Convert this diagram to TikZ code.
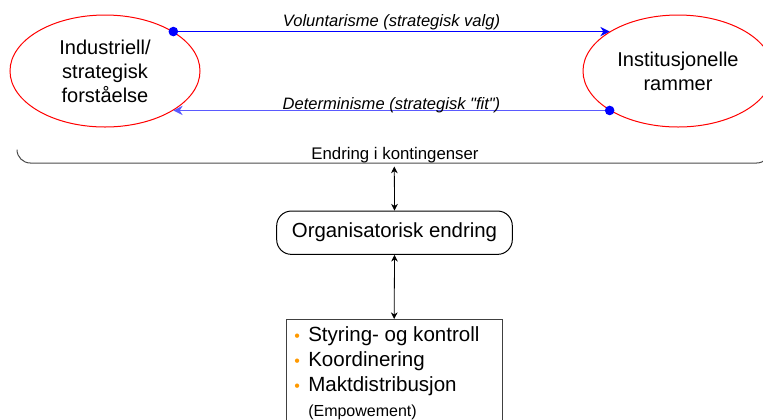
\documentclass[tikz,border=0pt]{standalone}
\usepackage{fontspec}
\setmainfont{Liberation Sans}
\usetikzlibrary{shapes.geometric,arrows.meta}
\definecolor{pilblaa}{RGB}{0,0,255}
\definecolor{pilblaalys}{RGB}{90,90,255}
\definecolor{punktoransje}{RGB}{255,153,0}
\tikzset{
  >={Stealth[length=5pt,width=5pt]},
}
\tikzstyle{perspektiv}=[draw=red,ellipse,line width=.75pt,minimum width=142.5pt,minimum height=84pt,inner sep=0pt,align=center,font=\fontsize{15}{18}\selectfont]
\tikzstyle{pil}=[line width=.75pt,-{Stealth[length=7pt,width=7pt]}]
\tikzstyle{etikett}=[anchor=base,inner sep=0pt,text=black,font=\fontsize{12.4}{14}\selectfont\itshape]
\tikzstyle{dobbelpil}=[line width=.6pt,<->]
\newcommand{\punkt}{\makebox[10.5pt][l]{\textcolor{punktoransje}{\fontsize{12}{12}\selectfont\textbullet}}}

\begin{document}
\begin{tikzpicture}[x=.75pt,y=-.75pt]
    \useasboundingbox (0,0) rectangle (763,419);
    \node[perspektiv] (industri) at (105,71) {Industriell/\\strategisk\\forståelse};
    \node[perspektiv] (institusjon) at (678,71) {Institusjonelle\\rammer};
    \draw[pil,pilblaa] (industri.30) -- node[etikett,yshift=3.75pt]{Voluntarisme (strategisk valg)} (institusjon.150);
    \fill[pilblaa] (industri.30) circle (3.6pt);
    \draw[pil,pilblaalys] (institusjon.210) -- node[etikett,yshift=.6pt]{Determinisme (strategisk \textquotedbl fit\textquotedbl)} (industri.330);
    \fill[pilblaa] (institusjon.210) circle (3.6pt);
    \draw[black!70,line width=.75pt,rounded corners=10pt] (17,150) -- (17,163) -- (770,163) -- (770,150);
    \node[anchor=base,font=\fontsize{12.6}{14}\selectfont] (kontingens) at (395,159.3) {Endring i kontingenser};
    \coordinate (linje) at (394.3,163);
    \node[draw,rounded corners=11pt,line width=.75pt,minimum width=176.7pt,minimum height=32.5pt,font=\fontsize{15.3}{18}\selectfont] (endring) at (394.5,232.7) {Organisatorisk endring};
    \node[draw=black!75,line width=.75pt,minimum width=162pt,minimum height=110pt,anchor=north] (tiltak) at (394.2,319) {};
    \draw[dobbelpil] ([yshift=-2.7pt]linje) -- (endring.north);
    \draw[dobbelpil] (endring.south) -- (tiltak.north);
    \node[anchor=base west,align=left,inner sep=0pt,font=\fontsize{15.4}{18.75}\selectfont] (punkter) at (294,416)
      {\punkt Styring- og kontroll\\ \punkt Koordinering\\ \punkt Maktdistribusjon\\ \hspace*{10.5pt}{\fontsize{12}{12}\selectfont(Empowement)}};
  \end{tikzpicture}
\end{document}
